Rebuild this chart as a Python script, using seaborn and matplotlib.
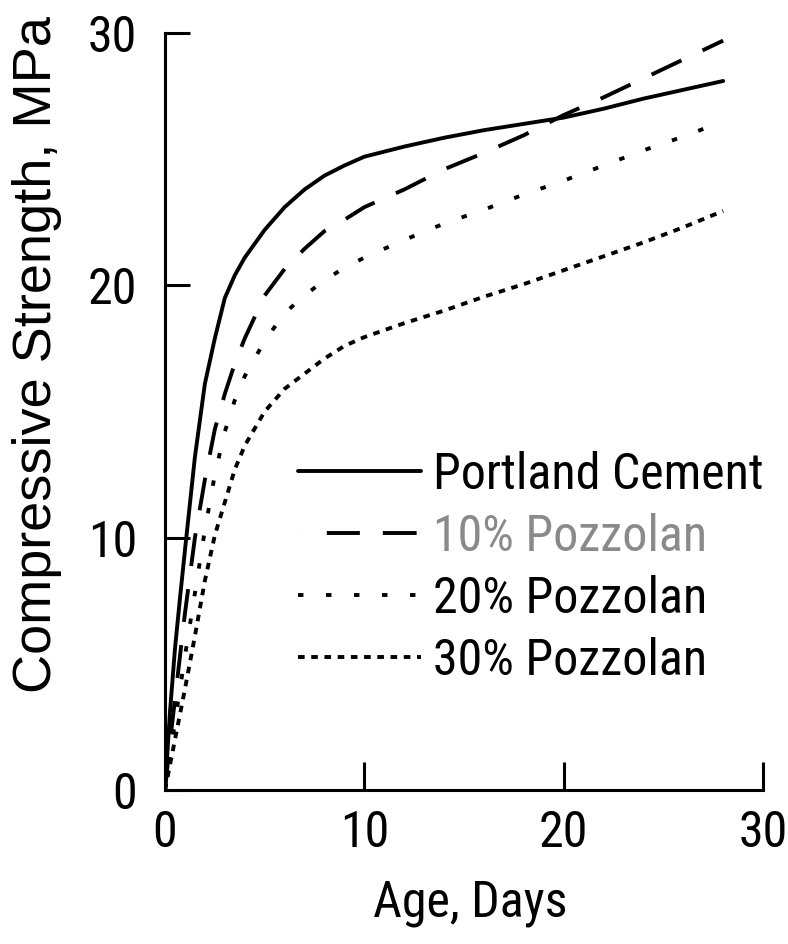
import matplotlib
matplotlib.use("Agg")
import matplotlib.pyplot as plt
from matplotlib.lines import Line2D
from matplotlib import font_manager
import seaborn as sns
import pandas as pd

# Compressive strength development (MPa) against age (days)
age_days = [0, 0.25, 0.5, 0.75, 1, 1.5, 2, 2.5, 3, 3.5, 4, 5, 6, 7, 8, 9,
            10, 12, 14, 16, 18, 20, 22, 24, 26, 28]
portland = [0, 3.1, 5.6, 7.6, 9.5, 13.2, 16.1, 17.9, 19.5, 20.4, 21.1, 22.2,
            23.1, 23.8, 24.35, 24.75, 25.1, 25.5, 25.85, 26.15, 26.4, 26.65,
            27.0, 27.4, 27.75, 28.1]
pozz_10 = [0, 1.9, 3.6, 5.3, 7.0, 10.0, 12.3, 14.3, 15.7, 16.9, 17.9, 19.6,
           20.65, 21.45, 22.15, 22.6, 23.1, 23.8, 24.6, 25.25, 25.95, 26.75,
           27.45, 28.2, 28.95, 29.7]
pozz_20 = [0, 1.4, 2.7, 4.0, 5.3, 7.8, 10.3, 12.5, 14.2, 15.45, 16.4, 17.8,
           18.9, 19.6, 20.2, 20.7, 21.1, 21.8, 22.45, 23.0, 23.6, 24.15,
           24.75, 25.35, 25.9, 26.5]
pozz_30 = [0, 1.0, 2.0, 3.0, 4.0, 6.1, 8.3, 10.1, 11.4, 12.7, 13.65, 15.0,
           15.9, 16.5, 17.1, 17.6, 17.95, 18.5, 19.0, 19.55, 20.05, 20.6,
           21.15, 21.7, 22.3, 22.95]

mixes = ["Portland Cement", "10% Pozzolan", "20% Pozzolan", "30% Pozzolan"]
series = [portland, pozz_10, pozz_20, pozz_30]
label_colors = ["black", "#8a8a8a", "black", "black"]

x_ticks = [0, 10, 20, 30]
y_ticks = [0, 10, 20, 30]

df = pd.DataFrame({
    "Age": [a for _ in mixes for a in age_days],
    "Strength": [v for s in series for v in s],
    "Mix": [m for m in mixes for _ in age_days],
})

sns.set_theme(style="ticks")

# Pick a narrow sans face for the horizontal texts if one is installed
fonts = font_manager.fontManager.ttflist
names = {f.name for f in fonts}
narrow = None
for cand in ["Liberation Sans Narrow", "Arial Narrow", "Roboto Condensed",
             "Noto Sans Condensed", "Open Sans Condensed",
             "DejaVu Sans Condensed"]:
    if cand in names:
        narrow = cand
        break
if narrow is None:
    for f in fonts:
        if f.stretch in ("condensed", "semi-condensed") and f.weight in (400, "normal", "regular"):
            if any(k in f.name for k in ("Noto Sans", "Roboto", "Open Sans", "DejaVu Sans", "Liberation")):
                narrow = f.name
                break

if narrow is not None:
    h_family = [narrow, "Liberation Sans", "DejaVu Sans"]
    h_size = 36
else:
    h_family = ["Liberation Sans", "DejaVu Sans"]
    h_size = 31
plt.rcParams["font.family"] = h_family

LW = 2.8
dash_styles = {
    "Portland Cement": "",
    "10% Pozzolan": (8.5, 6.0),
    "20% Pozzolan": (1.4, 5.8),
    "30% Pozzolan": (1.7, 1.7),
}

fig = plt.figure(figsize=(7.88, 9.44), dpi=100)
ax = fig.add_axes([0.2094, 0.1631, 0.7589, 0.8019])

sns.lineplot(data=df, x="Age", y="Strength", style="Mix", dashes=dash_styles,
             color="black", linewidth=LW, estimator=None, legend=False,
             ax=ax)

ax.set_xlim(0, 30)
ax.set_ylim(0, 30)
ax.set_xticks(x_ticks)
ax.set_yticks(y_ticks)
ax.set_xticklabels([str(t) for t in x_ticks])
ax.set_yticklabels([str(t) for t in y_ticks])

for side in ("top", "right"):
    ax.spines[side].set_visible(False)
for side in ("left", "bottom"):
    ax.spines[side].set_linewidth(2.2)
    ax.spines[side].set_color("black")

ax.tick_params(axis="both", direction="in", width=2.2, colors="black",
               labelsize=h_size)
ax.tick_params(axis="x", length=20, pad=14)
ax.tick_params(axis="y", length=18, pad=20)

ax.set_xlabel("Age, Days", fontsize=h_size, color="black")
ax.set_ylabel("Compressive Strength, MPa", fontsize=39, color="black",
              family=["Liberation Sans", "DejaVu Sans"])
ax.xaxis.set_label_coords(0.51, -0.118)
ax.yaxis.set_label_coords(-0.172, 0.575)

# Legend keys
handles = [
    Line2D([], [], color="black", lw=LW),
    Line2D([], [], color="black", lw=LW, dash_capstyle="butt",
           linestyle=(0, (0.01, 7.4, 8.5, 5.9, 8.7, 20))),
    Line2D([], [], color="black", lw=LW, linestyle=(0, dash_styles["20% Pozzolan"])),
    Line2D([], [], color="black", lw=LW, linestyle=(0, dash_styles["30% Pozzolan"])),
]
leg = ax.legend(handles, mixes, loc="upper left",
                bbox_to_anchor=(0.2224, 0.448), frameon=False,
                fontsize=h_size, handlelength=2.4 * 37 / h_size,
                handletextpad=0.23 * 37 / h_size,
                labelspacing=0.27 * 37 / h_size, borderpad=0, borderaxespad=0)
for txt, c in zip(leg.get_texts(), label_colors):
    txt.set_color(c)

fig.savefig("out.png", dpi=100, facecolor="white")
